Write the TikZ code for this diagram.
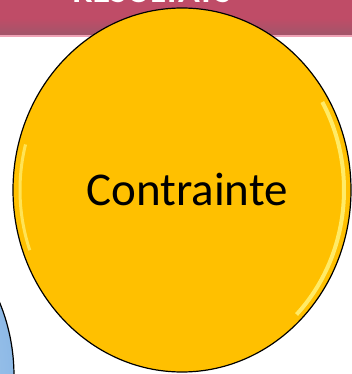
\documentclass[tikz,border=0pt]{standalone}
\usepackage{fontspec}
\setmainfont{Carlito}
\usetikzlibrary{shapes.geometric, positioning}
\definecolor{bandrose}{HTML}{BF4C67}
\definecolor{banddark}{HTML}{A0566A}
\definecolor{bandline}{HTML}{EFA3B6}
\definecolor{gold}{HTML}{FFC000}
\definecolor{goldlight}{HTML}{FFF37A}
\definecolor{skyblue}{HTML}{A9CDF0}
\definecolor{skydark}{HTML}{8DB9E6}
\tikzset{
	band/.style = {rectangle, inner sep = 0pt, minimum width = 352pt, minimum height = 36pt, top color = bandrose, bottom color = banddark, middle color = bandrose, anchor = north west},
	title/.style = {text = white, font = {\fontsize{36pt}{36pt}\selectfont\bfseries}, anchor = base, inner sep = 0pt},
	bubble/.style = {ellipse, draw = black, line width = 1.2pt, inner sep = 0pt, minimum width = 338pt, minimum height = 364pt},
	yellowbubble/.style = {bubble, fill = gold, font = {\fontsize{47pt}{47pt}\selectfont}},
	bluebubble/.style = {bubble, inner color = skyblue!50!white, outer color = skydark}
}

\begin{document}
\begin{tikzpicture}[x = 1pt, y = -1pt]
	\useasboundingbox (0,0) rectangle (352,374);
	
	%%%%%%%% band on top %%%%%%%%
	\node (band) [band] at (0,0) {};
	\draw [bandline, line width = 2pt] (band.south west) -- (band.south east);
	\node (titre) [title] at (152,3) {RÉSULTATS};
	
	%% bubbles
	\node (bleu) [bluebubble] at (-155,376) {};
	\node (contrainte) [yellowbubble] at (182,190) {\hspace*{10pt}Contrainte};
	% shine on the edge
	\begin{scope}
	\clip (contrainte.center) ellipse (167pt and 180pt);
	\draw [goldlight, line width = 4pt, opacity = 0.85] (contrainte.center) ++(-45:162pt and 176pt) arc (-45:30:162pt and 176pt);
	\draw [goldlight, line width = 3pt, opacity = 0.7] (contrainte.center) ++(165:162pt and 176pt) arc (165:200:162pt and 176pt);
	\end{scope}
	
\end{tikzpicture}
\end{document}
